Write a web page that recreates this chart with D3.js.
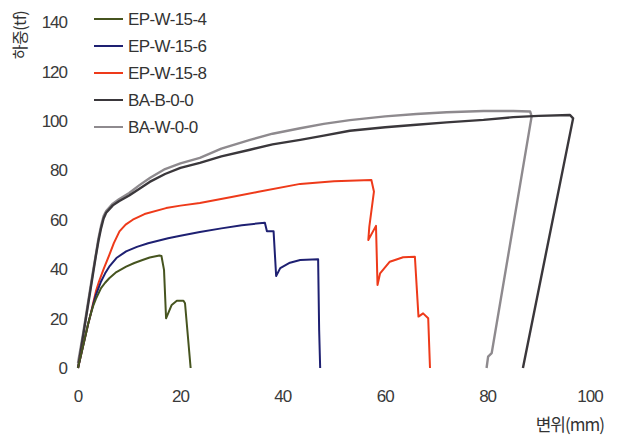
<!DOCTYPE html>
<html>
<head>
<meta charset="utf-8">
<script src="https://cdn.jsdelivr.net/npm/d3@7"></script>
<style>
    body { margin: 0; background: #fff; }
    svg { display: block; }
</style>
</head>
<body>
<div id="chart"></div>
<script>
// series names + colors
var seriesNames = ['EP-W-15-4', 'EP-W-15-6', 'EP-W-15-8', 'BA-B-0-0', 'BA-W-0-0'];
var seriesColors = ['#46541f', '#1e2072', '#ee3a1a', '#3a373b', '#8e8a8e'];

var xTicks = [0, 20, 40, 60, 80, 100];
var yTicks = [0, 20, 40, 60, 80, 100, 120, 140];

// displacement (mm) / load (tf)
var ep4X = [0, 1, 2, 2.5, 3, 3.5, 4.5, 5.3, 6.1, 7.5, 9.4, 11, 12.6, 14, 15.9, 16.3, 16.8, 17.2, 18.3, 19.3, 20.6, 20.9, 22];
var ep4Y = [0, 9, 18, 22, 25.3, 28, 32.3, 34.5, 36.3, 38.8, 41, 42.5, 43.7, 44.7, 45.5, 45.3, 39.7, 20.1, 25.5, 27.2, 27.2, 26.2, 0];

var ep6X = [0, 1, 2, 2.5, 3, 3.5, 4.5, 5.3, 6.1, 7.5, 9.4, 11.5, 13.7, 17.6, 20, 23.8, 28, 32, 36.5, 36.9, 38.2, 38.7, 39.5, 41.4, 43.4, 46.9, 47.1, 47.3];
var ep6Y = [0, 9, 18, 22, 26, 29.6, 35, 38.3, 41, 44.5, 47.2, 49, 50.5, 52.5, 53.5, 55, 56.5, 57.8, 58.8, 55.3, 55.3, 37.2, 40.4, 42.6, 43.7, 44, 15.4, 0];

var ep8X = [0, 1, 2, 2.5, 3, 3.5, 4.1, 5, 6.1, 7, 8.1, 9.3, 10.7, 13, 17.2, 20, 23.8, 30, 35, 43.4, 50, 57.3, 57.8, 56.9, 56.7, 58.2, 58.5, 59, 60.9, 63.5, 65.8, 66.5, 67.4, 68.4, 68.75];
var ep8Y = [0, 9, 18, 22, 26.6, 31, 35, 40, 45.7, 50.5, 55.3, 58, 60, 62.3, 64.7, 65.7, 66.8, 69.2, 71.2, 74.5, 75.6, 76.1, 71.4, 57.2, 51.8, 57.5, 33.6, 38.3, 43, 44.8, 45, 20.8, 22.1, 20.1, 0];

var baBX = [0, 1, 2, 3, 3.5, 4, 4.5, 5, 5.5, 6.8, 8, 10, 12, 14, 17, 20, 23.8, 28, 33.6, 38, 43.4, 48, 53.1, 60, 66.1, 72, 79.2, 85, 90, 96.1, 96.7, 86.9];
var baBY = [0, 13, 26, 39, 45.5, 51.5, 56.5, 60.5, 62.8, 65.8, 67.5, 69.8, 72.5, 75.3, 78.5, 81, 83, 85.6, 88.3, 90.5, 92.3, 94, 96, 97.4, 98.4, 99.4, 100.4, 101.5, 102, 102.4, 101, 0];

var baWX = [0, 1, 2, 3, 3.5, 4, 4.5, 5, 5.5, 6.8, 8, 10, 12, 14.1, 17, 20, 23.8, 28, 33.6, 38, 43.4, 48, 53.1, 60, 66.1, 72, 79.2, 85, 88.3, 88.6, 80.8, 80.1, 79.8];
var baWY = [2, 14, 27, 40, 46, 52.5, 57.5, 61.5, 63.5, 66.5, 68.3, 70.8, 74, 77, 80.5, 82.8, 85, 88.8, 92.3, 94.8, 97, 98.8, 100.3, 101.8, 102.8, 103.5, 104, 104, 103.8, 101.8, 6, 4.6, 0];

var seriesX = [ep4X, ep6X, ep8X, baBX, baWX];
var seriesY = [ep4Y, ep6Y, ep8Y, baBY, baWY];

var width = 617,
    height = 438;

var x = d3.scaleLinear().domain([0, 100]).range([78, 590]);
var y = d3.scaleLinear().domain([0, 140]).range([368, 22]);

var svg = d3.select('#chart')
    .append('svg')
    .attr('width', width)
    .attr('height', height);

var numFont = '"Liberation Sans", Arial, sans-serif';
var krFont = '"Noto Sans CJK KR", "Noto Sans", sans-serif';

// tick labels only, no axis lines in the original
svg.selectAll('.xtick')
    .data(xTicks)
    .enter()
    .append('text')
    .attr('class', 'xtick')
    .attr('x', function (d) { return x(d); })
    .attr('y', 402)
    .attr('text-anchor', 'middle')
    .style('font-family', numFont)
    .style('font-size', '17px')
    .style('letter-spacing', '-1px')
    .style('fill', '#3a3a3a')
    .text(function (d) { return d; });

svg.selectAll('.ytick')
    .data(yTicks)
    .enter()
    .append('text')
    .attr('class', 'ytick')
    .attr('x', 67)
    .attr('y', function (d) { return y(d); })
    .attr('dy', '0.36em')
    .attr('text-anchor', 'end')
    .style('font-family', numFont)
    .style('font-size', '17px')
    .style('letter-spacing', '-1px')
    .style('fill', '#3a3a3a')
    .text(function (d) { return d; });

svg.append('text')
    .attr('x', 604)
    .attr('y', 431)
    .attr('text-anchor', 'end')
    .style('font-family', krFont)
    .style('font-size', '17px')
    .style('letter-spacing', '-1px')
    .style('fill', '#333')
    .text('변위(mm)');

svg.append('text')
    .attr('transform', 'translate(26,35) rotate(-90)')
    .attr('text-anchor', 'middle')
    .style('font-family', krFont)
    .style('font-size', '16px')
    .style('letter-spacing', '-0.5px')
    .style('fill', '#333')
    .text('하중(tf)');

var line = d3.line()
    .x(function (d) { return x(d[0]); })
    .y(function (d) { return y(d[1]); });

// draw grey ones first so the colored curves sit on top
var order = [4, 3, 2, 1, 0];
order.forEach(function (i) {
    var pts = seriesX[i].map(function (v, j) { return [v, seriesY[i][j]]; });
    svg.append('path')
        .datum(pts)
        .attr('d', line)
        .style('fill', 'none')
        .style('stroke', seriesColors[i])
        .style('stroke-width', i >= 3 ? 2.4 : 2)
        .style('stroke-linejoin', 'round');
});

// legend
var legend = svg.selectAll('.legend')
    .data(seriesNames)
    .enter()
    .append('g')
    .attr('class', 'legend')
    .attr('transform', function (d, i) { return 'translate(94,' + (19 + i * 27) + ')'; });

legend.append('line')
    .attr('x1', 0)
    .attr('x2', 29)
    .style('stroke', function (d, i) { return seriesColors[i]; })
    .style('stroke-width', 2);

legend.append('text')
    .attr('x', 34)
    .attr('dy', '0.36em')
    .style('font-family', numFont)
    .style('font-size', '17px')
    .style('letter-spacing', '-0.6px')
    .style('fill', '#333')
    .text(function (d) { return d; });
</script>
</body>
</html>
